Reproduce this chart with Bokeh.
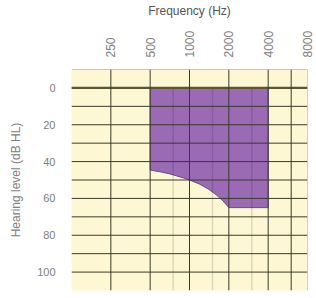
from bokeh.plotting import figure
from bokeh.models import Range1d, FixedTicker
from bokeh.embed import file_html
from bokeh.resources import INLINE

# data
tick_freqs = [250, 500, 1000, 2000, 4000, 8000]
tick_labels = ["250", "500", "1000", "2000", "4000", "8000"]
major_lines = [250, 500, 1000, 2000, 4000, 6000]
half_lines = [750, 1500, 3000]
edge_line = [8000]
levels = [0, 10, 20, 30, 40, 50, 60, 70, 80, 90, 100]
level_ticks = [0, 20, 40, 60, 80, 100]

# region of hearing loss (boundary)
region_freq = [500, 4000, 4000, 2000, 1800, 1600, 1400, 1200, 1000, 900, 800, 700, 600, 500]
region_level = [0, 0, 65, 65, 61.3, 58, 55, 52.3, 50, 48.9, 47.8, 46.6, 45.6, 44.6]

LO, HI = -10, 110
FMIN, FMAX = 125, 8000

p = figure(width=316, height=298, x_axis_type="log", x_axis_location="above",
           x_range=Range1d(FMIN, FMAX), y_range=Range1d(HI, LO),
           output_backend="svg", toolbar_location=None,
           min_border_left=71, min_border_right=9, min_border_top=67, min_border_bottom=8)

p.background_fill_color = "#FDF8D3"
p.border_fill_color = "white"
p.outline_line_color = None
p.xgrid.visible = False
p.ygrid.visible = False

p.patch(region_freq, region_level, fill_color="#9A6BB4", line_color="#6e4a86", line_width=1)

# faint half-octave lines
p.segment(x0=half_lines, x1=half_lines, y0=[0] * len(half_lines), y1=[HI] * len(half_lines),
          line_color="black", line_alpha=0.13, line_width=1.5)

# horizontal lines
p.segment(x0=[FMIN] * len(levels), x1=[FMAX] * len(levels), y0=levels, y1=levels,
          line_color="#3a3a2c", line_width=1)
p.segment(x0=[FMIN], x1=[FMAX], y0=[0], y1=[0], line_color="#5b5633", line_width=2.2)
p.segment(x0=[FMIN], x1=[FMAX], y0=[LO], y1=[LO], line_color="#9c9878", line_width=1)

# vertical lines
p.segment(x0=major_lines, x1=major_lines, y0=[LO] * len(major_lines), y1=[HI] * len(major_lines),
          line_color="#3a3a2c", line_width=1)
p.segment(x0=edge_line, x1=edge_line, y0=[LO], y1=[HI], line_color="#a8a690", line_width=1)

# x axis (top)
xa = p.xaxis[0]
xa.ticker = FixedTicker(ticks=tick_freqs)
xa.major_label_overrides = {f: l for f, l in zip(tick_freqs, tick_labels)}
xa.major_label_orientation = 3.14159265 / 2
xa.axis_label = "Frequency (Hz)"
xa.axis_label_text_font = "Liberation Sans"
xa.axis_label_text_font_style = "normal"
xa.axis_label_text_font_size = "12px"
xa.axis_label_text_color = "#555555"
xa.axis_label_standoff = 10
xa.major_label_text_font = "Liberation Sans"
xa.major_label_text_font_size = "12px"
xa.major_label_text_color = "#808080"
xa.major_label_standoff = 12
xa.axis_line_color = None
xa.major_tick_line_color = None
xa.minor_tick_line_color = None
xa.major_tick_out = 0
xa.minor_tick_out = 0

# y axis
ya = p.yaxis[0]
ya.ticker = FixedTicker(ticks=level_ticks)
ya.axis_label = "Hearing level (dB HL)"
ya.axis_label_text_font = "Liberation Sans"
ya.axis_label_text_font_style = "normal"
ya.axis_label_text_font_size = "12px"
ya.axis_label_text_color = "#808080"
ya.axis_label_standoff = 11
ya.major_label_text_font = "Liberation Sans"
ya.major_label_text_font_size = "11px"
ya.major_label_text_color = "#808080"
ya.major_label_standoff = 16
ya.axis_line_color = None
ya.major_tick_line_color = None
ya.minor_tick_line_color = None
ya.major_tick_out = 0
ya.minor_tick_out = 0

open("out.html", "w").write(file_html(p, INLINE))
